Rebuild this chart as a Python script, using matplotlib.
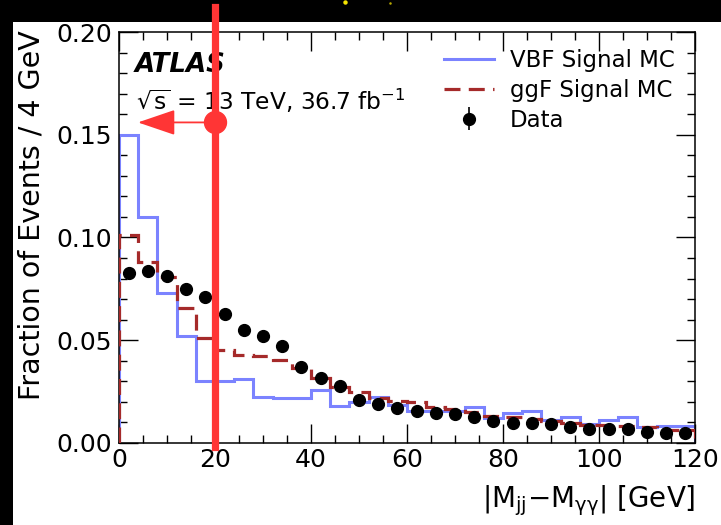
import numpy as np
import matplotlib
matplotlib.use("Agg")
import matplotlib.pyplot as plt
from matplotlib.ticker import MultipleLocator, FormatStrFormatter
from matplotlib.lines import Line2D
from matplotlib.patches import Rectangle
import matplotlib.transforms as mtransforms

# |Mjj - Myy| binning: 4 GeV bins from 0 to 120 GeV
bin_edges = np.arange(0, 124, 4)

vbf_signal = [0.150, 0.110, 0.073, 0.052, 0.030, 0.030, 0.031, 0.0225, 0.022, 0.022,
              0.026, 0.018, 0.020, 0.0225, 0.0185, 0.0157, 0.0157, 0.0157, 0.0173, 0.012,
              0.0144, 0.0157, 0.0112, 0.0125, 0.0092, 0.0112, 0.0128, 0.0079, 0.0083, 0.0083]

ggf_signal = [0.101, 0.088, 0.081, 0.0655, 0.051, 0.0453, 0.043, 0.0423, 0.0404, 0.0365,
              0.0316, 0.0274, 0.025, 0.0218, 0.0205, 0.0198, 0.0173, 0.0164, 0.0152, 0.0131,
              0.0125, 0.0115, 0.0109, 0.0096, 0.0088, 0.0088, 0.0083, 0.0076, 0.0062, 0.0063]

data_values = [0.0829, 0.0837, 0.0813, 0.0749, 0.0712, 0.0629, 0.055, 0.052, 0.0472, 0.0371,
               0.0315, 0.0277, 0.0209, 0.0188, 0.0170, 0.0157, 0.0148, 0.0141, 0.0125, 0.0109,
               0.0099, 0.0099, 0.0092, 0.0076, 0.0067, 0.0067, 0.0067, 0.0055, 0.0050, 0.0047]
data_errors = [0.0015] * 30

cut_value = 20.0      # GeV, selection boundary
cut_marker_y = 0.156

bin_centers = 0.5 * (bin_edges[:-1] + bin_edges[1:])

W, H = 721, 525
fig = plt.figure(figsize=(W / 100, H / 100), dpi=100, facecolor="black")
# white canvas inset from the black border
fig.add_artist(Rectangle((12.7 / W, 0), 1 - 12.7 / W, 1 - 22 / H,
                         transform=fig.transFigure, facecolor="white",
                         edgecolor="none", zorder=-10))

ax = fig.add_axes([119 / W, 1 - 443 / H, (695 - 119) / W, (443 - 32) / H])

ax.stairs(vbf_signal, bin_edges, color="#7b83ff", lw=2.2, label="VBF Signal MC",
          baseline=0, zorder=2)
ax.stairs(ggf_signal, bin_edges, color="#a52a2a", lw=2.3, ls=(0, (5, 2.6)),
          label="ggF Signal MC", baseline=0, zorder=3)
ax.errorbar(bin_centers, data_values, yerr=data_errors, fmt="o", color="black",
            ms=8.5, elinewidth=1.2, capsize=0, label="Data", zorder=4)

ax.set_xlim(0, 120)
ax.set_ylim(0, 0.20)
ax.xaxis.set_major_locator(MultipleLocator(20))
ax.xaxis.set_minor_locator(MultipleLocator(5))
ax.yaxis.set_major_locator(MultipleLocator(0.05))
ax.yaxis.set_minor_locator(MultipleLocator(0.01))
ax.yaxis.set_major_formatter(FormatStrFormatter("%.2f"))
ax.tick_params(which="both", direction="in", top=True, right=True, width=1.0,
               labelsize=18, color="black")
ax.tick_params(which="major", length=13.5)
ax.tick_params(which="minor", length=6)
ax.tick_params(axis="x", which="major", pad=3.5)
ax.tick_params(axis="y", which="major", pad=5)
for s in ax.spines.values():
    s.set_linewidth(1.1)

ax.set_xlabel(r"$|\mathrm{M_{jj}}{-}\mathrm{M_{\gamma\gamma}}|$ [GeV]", fontsize=20,
              loc="right", labelpad=8)
ax.set_ylabel("Fraction of Events / 4 GeV", fontsize=20.5, loc="top")
ax.yaxis.set_label_coords((46 - 119) / 576, 1.005)

ax.text(0.0278, 0.9027, "ATLAS", transform=ax.transAxes, fontsize=18.7,
        fontweight="bold", fontstyle="italic", va="baseline")
ax.text(0.030, 0.810, r"$\sqrt{\mathrm{s}}$ = 13 TeV, 36.7 fb$^{-1}$",
        transform=ax.transAxes, fontsize=16.8, va="baseline")

leg = ax.legend(loc="upper right", frameon=False, fontsize=16.5, handlelength=2.17,
                labelspacing=0.3, borderaxespad=0.0, handletextpad=0.7,
                bbox_to_anchor=(0.981, 0.9805))

# selection cut overlay: vertical line, marker and arrow toward lower values
red = "#ff3535"
trans = mtransforms.blended_transform_factory(ax.transData, fig.transFigure)
ax.add_line(Line2D([cut_value, cut_value], [1 - 7 / H, 1 - 447 / H], transform=trans,
                   color=red, lw=5.2, clip_on=False, zorder=10))
ax.plot([cut_value], [cut_marker_y], "o", color=red, ms=15.8, zorder=11, clip_on=False)
ax.annotate("", xy=(3.95, cut_marker_y), xytext=(cut_value, cut_marker_y),
            arrowprops=dict(arrowstyle="-|>,head_length=2.35,head_width=0.8",
                            color=red, lw=1.3, shrinkA=0, shrinkB=0),
            zorder=11)

# small yellow specks along the top border
fig.add_artist(Line2D([345 / W], [1 - 1.5 / H], transform=fig.transFigure,
                      ls="none", marker="o", ms=3.2, color="#f5e400", mec="none"))
fig.add_artist(Line2D([390 / W], [1 - 2.5 / H], transform=fig.transFigure,
                      ls="none", marker="o", ms=1.8, color="#b8a800", mec="none"))

fig.savefig("out.png", dpi=100, facecolor=fig.get_facecolor())
